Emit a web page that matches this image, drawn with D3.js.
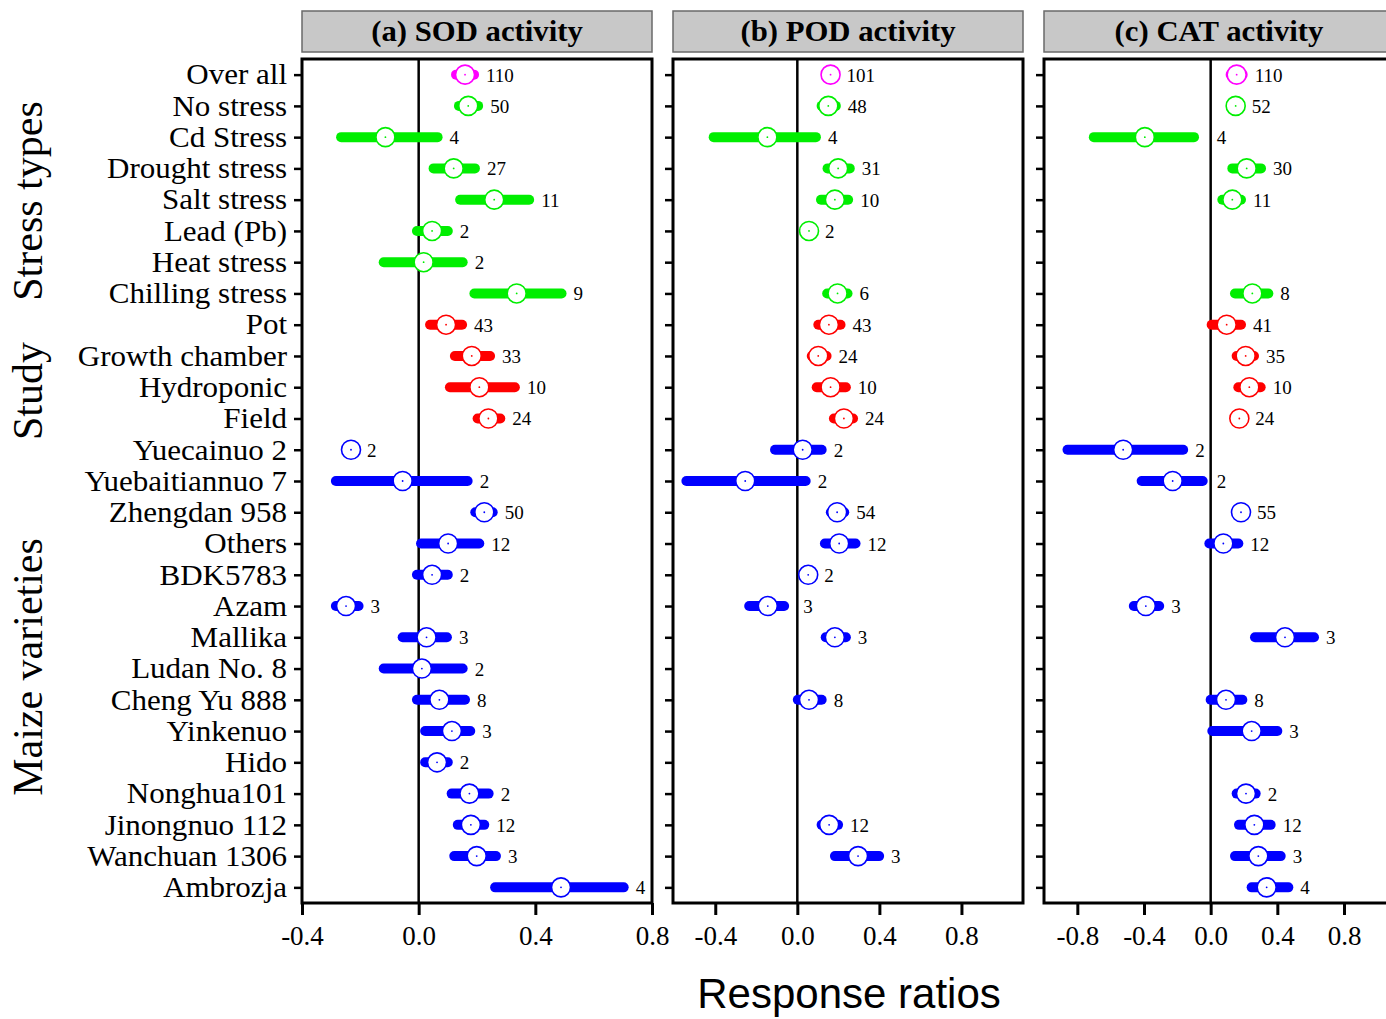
<!DOCTYPE html>
<html>
<head>
<meta charset="utf-8">
<title>Response ratios</title>
<script src="https://d3js.org/d3.v7.min.js"></script>
<style>
  body { margin: 0; background: #fff; }
  svg { display: block; }
</style>
</head>
<body>
<script>

var rows = ["Over all", "No stress", "Cd Stress", "Drought stress", "Salt stress", "Lead (Pb)",
  "Heat stress", "Chilling stress", "Pot", "Growth chamber", "Hydroponic", "Field",
  "Yuecainuo 2", "Yuebaitiannuo 7", "Zhengdan 958", "Others", "BDK5783", "Azam", "Mallika",
  "Ludan No. 8", "Cheng Yu 888", "Yinkenuo", "Hido", "Nonghua101", "Jinongnuo 112",
  "Wanchuan 1306", "Ambrozja"];

var rowGroup = ["all",
  "stress", "stress", "stress", "stress", "stress", "stress", "stress",
  "study", "study", "study", "study",
  "variety", "variety", "variety", "variety", "variety", "variety", "variety", "variety",
  "variety", "variety", "variety", "variety", "variety", "variety", "variety"];

var groupNames = ["Stress types", "Study", "Maize varieties"];

// (a) SOD
var sodMean = [0.159, 0.170, -0.114, 0.120, 0.259, 0.046, 0.017, 0.336, 0.094, 0.182, 0.208, 0.239, -0.232, -0.055, 0.225, 0.101, 0.046, -0.249, 0.027, 0.011, 0.071, 0.114, 0.063, 0.174, 0.179, 0.199, 0.488];
var sodLo = [0.111, 0.121, -0.283, 0.034, 0.125, -0.023, -0.137, 0.174, 0.022, 0.107, 0.090, 0.185, -0.232, -0.301, 0.177, -0.009, -0.023, -0.301, -0.072, -0.137, -0.023, 0.005, 0.005, 0.096, 0.117, 0.105, 0.245];
var sodHi = [0.207, 0.221, 0.082, 0.210, 0.396, 0.117, 0.168, 0.507, 0.166, 0.262, 0.347, 0.297, -0.232, 0.185, 0.271, 0.225, 0.117, -0.189, 0.114, 0.168, 0.176, 0.194, 0.117, 0.257, 0.242, 0.282, 0.720];
var sodN = [110, 50, 4, 27, 11, 2, 2, 9, 43, 33, 10, 24, 2, 2, 50, 12, 2, 3, 3, 2, 8, 3, 2, 2, 12, 3, 4];

// (b) POD
var podMean = [0.162, 0.151, -0.146, 0.199, 0.183, 0.057, null, 0.196, 0.154, 0.102, 0.162, 0.227, 0.026, -0.254, 0.194, 0.204, 0.053, -0.144, 0.183, null, 0.057, null, null, null, 0.155, 0.296, null];
var podLo = [0.142, 0.094, -0.432, 0.123, 0.091, 0.057, null, 0.121, 0.078, 0.046, 0.070, 0.154, -0.133, -0.565, 0.139, 0.110, 0.053, -0.259, 0.114, null, -0.022, null, null, null, 0.094, 0.159, null];
var podHi = [0.182, 0.212, 0.115, 0.280, 0.272, 0.057, null, 0.269, 0.235, 0.167, 0.261, 0.296, 0.143, 0.065, 0.253, 0.308, 0.053, -0.040, 0.261, null, 0.143, null, null, null, 0.223, 0.423, null];
var podN = [101, 48, 4, 31, 10, 2, null, 6, 43, 24, 10, 24, 2, 2, 54, 12, 2, 3, 3, null, 8, null, null, null, 12, 3, null];

// (c) CAT
var catMean = [0.156, 0.150, -0.395, 0.216, 0.130, null, null, 0.250, 0.096, 0.210, 0.232, 0.172, -0.525, -0.228, 0.182, 0.076, null, -0.389, 0.446, null, 0.092, 0.246, null, 0.212, 0.262, 0.286, 0.336];
var catLo = [0.090, 0.150, -0.731, 0.100, 0.040, null, null, 0.116, -0.024, 0.126, 0.136, 0.172, -0.889, -0.444, 0.182, -0.038, null, -0.491, 0.236, null, -0.030, -0.020, null, 0.126, 0.140, 0.116, 0.216];
var catHi = [0.222, 0.150, -0.070, 0.332, 0.212, null, null, 0.376, 0.212, 0.290, 0.330, 0.172, -0.135, -0.018, 0.182, 0.196, null, -0.279, 0.650, null, 0.220, 0.430, null, 0.300, 0.390, 0.450, 0.496];
var catN = [110, 52, 4, 30, 11, null, null, 8, 41, 35, 10, 24, 2, 2, 55, 12, null, 3, 3, null, 8, 3, null, 2, 12, 3, 4];

var sodTicks = [-0.4, 0.0, 0.4, 0.8];
var podTicks = [-0.4, 0.0, 0.4, 0.8];
var catTicks = [-0.8, -0.4, 0.0, 0.4, 0.8];

var colors = { all: "#ff00ff", stress: "#00ee00", study: "#ff0000", variety: "#0000ff" };

var panels = [
  { title: "(a) SOD activity", mean: sodMean, lo: sodLo, hi: sodHi, n: sodN, domain: [-0.4, 0.8], ticks: sodTicks, left: 302 },
  { title: "(b) POD activity", mean: podMean, lo: podLo, hi: podHi, n: podN, domain: [-0.606, 1.1], ticks: podTicks, left: 673 },
  { title: "(c) CAT activity", mean: catMean, lo: catLo, hi: catHi, n: catN, domain: [-1.0, 1.1], ticks: catTicks, left: 1044 }
];

var width = 1386, height = 1019;
var panelW = 350, plotTop = 59, plotBottom = 903;
var serif = "'Liberation Serif', 'Times New Roman', serif";

var svg = d3.select("body").append("svg")
  .attr("width", width)
  .attr("height", height)
  .style("background", "#fff");

var y = d3.scalePoint()
  .domain(rows)
  .range([plotTop, plotBottom])
  .padding(0.5);

panels.forEach(function(p, pi) {
  var x = d3.scaleLinear().domain(p.domain).range([p.left, p.left + panelW]);
  var g = svg.append("g");

  // header strip
  g.append("rect")
    .attr("x", p.left).attr("y", 11)
    .attr("width", panelW).attr("height", 41)
    .attr("fill", "#c8c8c8").attr("stroke", "#6a6a6a").attr("stroke-width", 1.5);
  g.append("text")
    .attr("transform", "translate(" + (p.left + panelW / 2) + ",41) scale(1.06,1)")
    .attr("text-anchor", "middle")
    .attr("font-family", serif).attr("font-weight", "bold").attr("font-size", 29)
    .text(p.title);

  // y axis ticks
  var yAxis = g.append("g")
    .attr("transform", "translate(" + p.left + ",0)")
    .call(d3.axisLeft(y).tickSize(8).tickPadding(6).tickFormat(pi === 0 ? null : ""));
  yAxis.select(".domain").remove();
  yAxis.selectAll("line").attr("stroke", "#000").attr("stroke-width", 2.5);
  yAxis.attr("font-family", serif).attr("font-size", 29);
  yAxis.selectAll("text").attr("fill", "#000").attr("transform", "scale(1.07,1)");

  // x axis
  var xAxis = g.append("g")
    .attr("transform", "translate(0," + plotBottom + ")")
    .call(d3.axisBottom(x).tickValues(p.ticks).tickSize(12).tickPadding(11)
      .tickFormat(function(d) { return d.toFixed(1); }));
  xAxis.select(".domain").remove();
  xAxis.selectAll("line").attr("stroke", "#000").attr("stroke-width", 3);
  xAxis.attr("font-family", serif).attr("font-size", 27);
  xAxis.selectAll("text").attr("fill", "#000");

  // zero line
  var x0 = x(0);
  g.append("line")
    .attr("x1", x0).attr("x2", x0)
    .attr("y1", plotTop).attr("y2", plotBottom)
    .attr("stroke", "#000").attr("stroke-width", 2.5);

  var data = rows.map(function(r, i) {
    return { row: r, grp: rowGroup[i], mean: p.mean[i], lo: p.lo[i], hi: p.hi[i], n: p.n[i] };
  }).filter(function(d) { return d.mean !== null; });

  // confidence bars
  g.selectAll(".ci").data(data).enter().append("rect")
    .attr("class", "ci")
    .attr("x", function(d) { return x(d.lo); })
    .attr("y", function(d) { return y(d.row) - 5; })
    .attr("width", function(d) { return x(d.hi) - x(d.lo); })
    .attr("height", 10)
    .attr("rx", 5)
    .attr("fill", function(d) { return colors[d.grp]; });

  // mean markers
  g.selectAll(".pt").data(data).enter().append("circle")
    .attr("class", "pt")
    .attr("cx", function(d) { return x(d.mean); })
    .attr("cy", function(d) { return y(d.row); })
    .attr("r", 9.5)
    .attr("fill", "#fff")
    .attr("stroke", function(d) { return colors[d.grp]; })
    .attr("stroke-width", 1.6);
  g.selectAll(".dot").data(data).enter().append("circle")
    .attr("class", "dot")
    .attr("cx", function(d) { return x(d.mean); })
    .attr("cy", function(d) { return y(d.row); })
    .attr("r", 0.9)
    .attr("fill", function(d) { return colors[d.grp]; });

  // sample sizes
  g.selectAll(".cnt").data(data).enter().append("text")
    .attr("class", "cnt")
    .attr("x", function(d) {
      var lx = Math.max(x(d.hi), x(d.mean) + 9) + 7;
      if (lx < x0 + 6 && lx > x0 - 11) lx = x0 + 6;
      return lx;
    })
    .attr("y", function(d) { return y(d.row) + 7; })
    .attr("font-family", serif).attr("font-size", 19).attr("fill", "#000")
    .text(function(d) { return d.n; });

  // frame
  g.append("rect")
    .attr("x", p.left).attr("y", plotTop)
    .attr("width", panelW).attr("height", plotBottom - plotTop)
    .attr("fill", "none").attr("stroke", "#000").attr("stroke-width", 3);
});

// group labels on the left
var groupY = [201, 391, 667];
svg.selectAll(".grp").data(groupNames).enter().append("text")
  .attr("class", "grp")
  .attr("transform", function(d, i) { return "translate(42," + groupY[i] + ") rotate(-90)"; })
  .attr("text-anchor", "middle")
  .attr("font-family", serif).attr("font-size", 42).attr("fill", "#000")
  .text(function(d) { return d; });

svg.append("text")
  .attr("x", 849).attr("y", 1008)
  .attr("text-anchor", "middle")
  .attr("font-family", "'Liberation Sans', Arial, sans-serif").attr("font-size", 42)
  .attr("fill", "#000")
  .text("Response ratios");

</script>
</body>
</html>
